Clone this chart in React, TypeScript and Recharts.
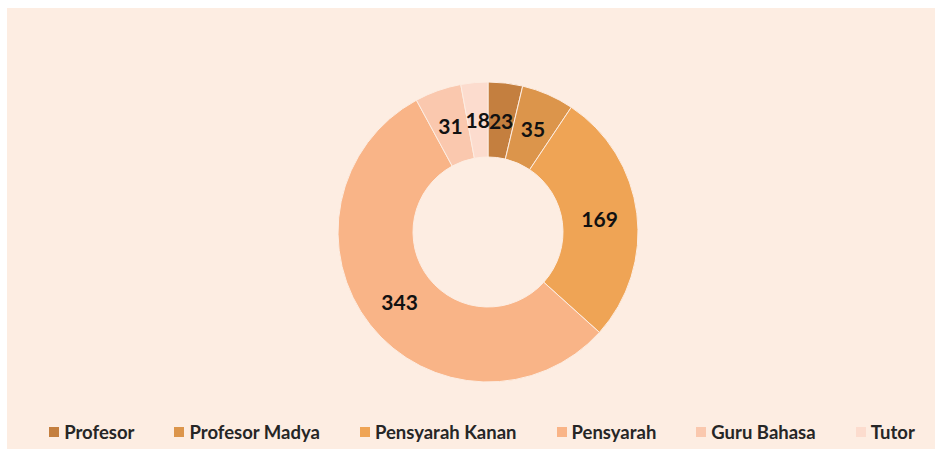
import { Cell, Legend, Pie, PieChart } from 'recharts';

const CATEGORIES = ['Profesor', 'Profesor Madya', 'Pensyarah Kanan', 'Pensyarah', 'Guru Bahasa', 'Tutor'];
const COUNTS = [23, 35, 169, 343, 31, 18];
const COLORS = ['#C47F3F', '#DC954B', '#EFA455', '#F9B487', '#FAC8AE', '#FCDCCE'];

const data = CATEGORIES.map((name, i) => ({ name, value: COUNTS[i] }));

const RADIAN = Math.PI / 180;

function renderLabel(props: any) {
  const { cx, cy, midAngle, innerRadius, outerRadius, value } = props;
  const r = (innerRadius + outerRadius) / 2;
  const x = cx + r * Math.cos(-midAngle * RADIAN);
  const y = cy + r * Math.sin(-midAngle * RADIAN);
  return (
    <text
      x={x}
      y={y}
      fill="#111"
      fontSize={21}
      fontWeight={700}
      textAnchor="middle"
      dominantBaseline="central"
      fontFamily="Lato, 'Open Sans', sans-serif"
    >
      {value}
    </text>
  );
}

function LegendContent() {
  return (
    <div
      style={{
        display: 'flex',
        justifyContent: 'center',
        gap: 40,
        fontFamily: "Lato, 'Open Sans', sans-serif",
        fontWeight: 700,
        fontSize: 18.5,
        color: '#262626',
        paddingLeft: 22,
      }}
    >
      {CATEGORIES.map((name, i) => (
        <span key={name} style={{ display: 'flex', alignItems: 'center', gap: 5 }}>
          <span style={{ width: 10, height: 10, background: COLORS[i], display: 'inline-block' }} />
          {name}
        </span>
      ))}
    </div>
  );
}

export default function App() {
  return (
    <div style={{ position: 'absolute', left: 7, top: 8, width: 928, height: 441, background: '#FDEDE2' }}>
      <PieChart width={928} height={441}>
        <Pie
          data={data}
          dataKey="value"
          nameKey="name"
          cx={476}
          cy={219}
          innerRadius={75}
          outerRadius={150}
          startAngle={90}
          endAngle={-270}
          stroke="#FDEDE2"
          strokeWidth={1}
          label={renderLabel}
          labelLine={false}
          isAnimationActive={false}
        >
          {data.map((d, i) => (
            <Cell key={d.name} fill={COLORS[i]} />
          ))}
        </Pie>
        <Legend
          verticalAlign="bottom"
          content={LegendContent}
          wrapperStyle={{ bottom: 6, left: 0, width: 928 }}
        />
      </PieChart>
    </div>
  );
}
